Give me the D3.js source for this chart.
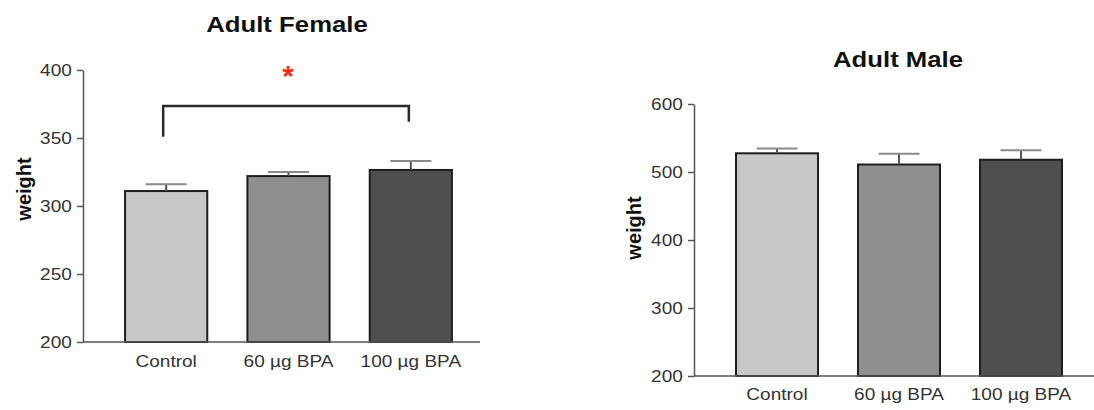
<!DOCTYPE html>
<html>
<head>
<meta charset="utf-8">
<script src="https://cdn.jsdelivr.net/npm/d3@7"></script>
<style>
  body { margin: 0; background: #fff; }
  svg { display: block; font-family: "Liberation Sans", Arial, sans-serif; }
</style>
</head>
<body>
<div id="vis"></div>
<script>
// groups + values
let groups = ["Control", "60 \u00b5g BPA", "100 \u00b5g BPA"]
let femaleMean = [311, 322, 326.5]
let femaleSem = [5, 3, 6.5]
let maleMean = [527.5, 511, 518]
let maleSem = [7, 16, 14]
let femaleTicks = [200, 250, 300, 350, 400]
let maleTicks = [200, 300, 400, 500, 600]
let colors = ["#c8c8c8", "#8f8f8f", "#4f4f4f"]

// significance bracket: left end, top, right end (in weight units)
let bracket = [351, 373.5, 362]

// the source image is a bit stretched sideways, so the text is too
let stretch = 1.12

let svg = d3.select("#vis").append("svg")
    .attr("width", 1094)
    .attr("height", 410)

function panel(opt) {
    let g = svg.append("g")

    let y = d3.scaleLinear().domain(opt.domain).range([opt.bottom, opt.top])
    let x = d3.scaleBand().domain(groups)
        .range(opt.xr)
        .paddingInner(0.328)
        .paddingOuter(0.164)

    // y axis
    let ya = g.append("g")
        .attr("transform", `translate(${opt.left},0)`)
        .call(d3.axisLeft(y).tickValues(opt.ticks).tickSize(6).tickSizeOuter(0).tickPadding(4))
    ya.select(".domain").attr("stroke", "#555").attr("stroke-width", 1.5)
    ya.selectAll(".tick line").attr("stroke", "#555").attr("stroke-width", 1.5)
    ya.selectAll(".tick text")
        .attr("font-size", 17)
        .attr("fill", "#333")
        .attr("font-family", "Liberation Sans, Arial, sans-serif")
        .attr("transform", `scale(${stretch},1)`)

    // bars
    g.selectAll("rect.bar")
        .data(opt.mean)
        .join("rect")
        .attr("class", "bar")
        .attr("x", (d, i) => x(groups[i]))
        .attr("width", x.bandwidth())
        .attr("y", d => y(d))
        .attr("height", d => y(opt.domain[0]) - y(d))
        .attr("fill", (d, i) => colors[i])
        .attr("stroke", "#1e1e1e")
        .attr("stroke-width", 2)

    // error bars (upper only)
    let capW = x.bandwidth() / 2
    g.selectAll("line.stem")
        .data(opt.mean)
        .join("line")
        .attr("class", "stem")
        .attr("x1", (d, i) => x(groups[i]) + x.bandwidth() / 2)
        .attr("x2", (d, i) => x(groups[i]) + x.bandwidth() / 2)
        .attr("y1", d => y(d))
        .attr("y2", (d, i) => y(d + opt.sem[i]))
        .attr("stroke", "#555")
        .attr("stroke-width", 2)
    g.selectAll("line.cap")
        .data(opt.mean)
        .join("line")
        .attr("class", "cap")
        .attr("x1", (d, i) => x(groups[i]) + x.bandwidth() / 2 - capW / 2)
        .attr("x2", (d, i) => x(groups[i]) + x.bandwidth() / 2 + capW / 2)
        .attr("y1", (d, i) => y(d + opt.sem[i]))
        .attr("y2", (d, i) => y(d + opt.sem[i]))
        .attr("stroke", "#8a8a8a")
        .attr("stroke-width", 2)

    // baseline
    g.append("line")
        .attr("x1", opt.left).attr("x2", opt.right)
        .attr("y1", y(opt.domain[0])).attr("y2", y(opt.domain[0]))
        .attr("stroke", "#555").attr("stroke-width", 1.5)

    // x labels
    let xa = g.append("g")
        .attr("transform", `translate(0,${y(opt.domain[0])})`)
        .call(d3.axisBottom(x).tickSize(0).tickPadding(opt.labelPad))
    xa.select(".domain").remove()
    xa.selectAll(".tick text")
        .attr("font-size", 17)
        .attr("fill", "#333")
        .attr("font-family", "Liberation Sans, Arial, sans-serif")
        .attr("transform", `scale(${stretch},1)`)

    // title
    g.append("text")
        .attr("transform", `translate(${opt.titleX},${opt.titleY}) scale(${stretch},1)`)
        .attr("text-anchor", "middle")
        .attr("font-size", 23)
        .attr("font-weight", "bold")
        .attr("fill", "#111")
        .text(opt.title)

    // y label
    g.append("text")
        .attr("transform", `translate(${opt.ylabX},${opt.ylabY}) rotate(-90)`)
        .attr("text-anchor", "middle")
        .attr("dy", "0.35em")
        .attr("font-size", 20)
        .attr("font-weight", "bold")
        .attr("fill", "#111")
        .text("weight")

    return {g, x, y}
}

let f = panel({
    domain: [200, 400], ticks: femaleTicks, mean: femaleMean, sem: femaleSem,
    top: 70, bottom: 342, left: 83, right: 480, xr: [105, 472],
    labelPad: 13, title: "Adult Female", titleX: 287, titleY: 32,
    ylabX: 24, ylabY: 189
})

panel({
    domain: [200, 600], ticks: maleTicks, mean: maleMean, sem: maleSem,
    top: 104, bottom: 376, left: 694, right: 1094, xr: [716, 1082],
    labelPad: 12, title: "Adult Male", titleX: 898, titleY: 67,
    ylabX: 634, ylabY: 228
})

// significance bracket between Control and 100 ug BPA
let bx0 = f.x(groups[0]) + f.x.bandwidth() / 2 - 3
let bx1 = f.x(groups[2]) + f.x.bandwidth() / 2 - 2
f.g.append("path")
    .attr("d", `M${bx0},${f.y(bracket[0])} V${f.y(bracket[1])} H${bx1} V${f.y(bracket[2])}`)
    .attr("fill", "none")
    .attr("stroke", "#2a2a2a")
    .attr("stroke-width", 2.5)

f.g.append("text")
    .attr("x", (bx0 + bx1) / 2 + 2)
    .attr("y", f.y(bracket[1]) - 20)
    .attr("text-anchor", "middle")
    .attr("font-size", 30)
    .attr("font-weight", "bold")
    .attr("fill", "#ff2a1a")
    .text("*")
</script>
</body>
</html>
